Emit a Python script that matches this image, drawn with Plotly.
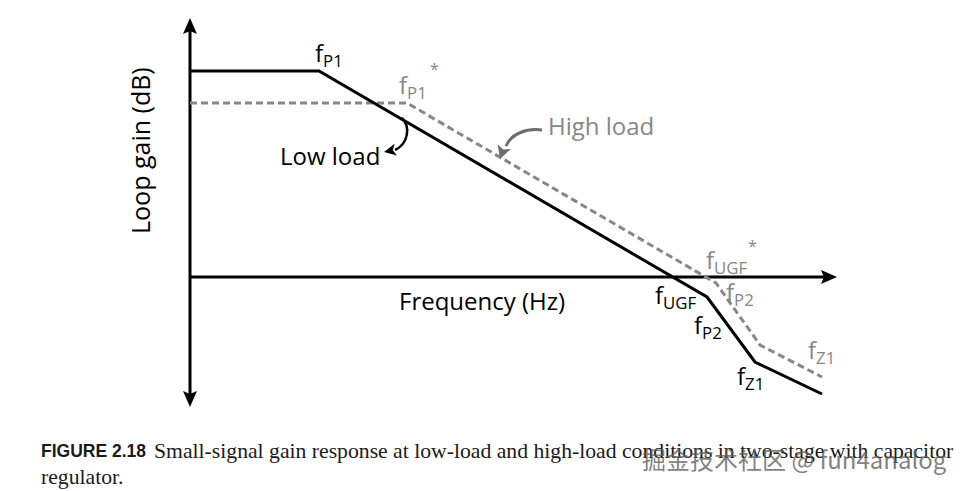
import math
import plotly.graph_objects as go

# ---- Asymptotic loop-gain curves (arbitrary units; origin = axes crossing) ----
low_load_freq = [0, 129, 517, 565, 632]
low_load_gain = [206, 206, -20, -85, -117]
high_load_freq = [0, 217, 526, 570, 632]
high_load_gain = [174, 174, -6, -68, -100]

# axis extents (same arbitrary units)
y_axis_top = 259
y_axis_bottom = -130
x_axis_right = 647

W, H = 969, 491
OX, OY = 190, 277  # pixel location of the origin inside the canvas

BLACK = "#000000"
GRAY = "#878787"
GRAY_ARROW = "#6e6e6e"
FONT = "Open Sans"


def X(px):
    return px - OX


def Y(py):
    return OY - py


def head(tip, direction, length=16, half=7, notch=3):
    dx, dy = direction
    n = math.hypot(dx, dy)
    ux, uy = dx / n, dy / n
    pxu, pyu = -uy, ux
    tx, ty = tip
    bx, by = tx - length * ux, ty - length * uy
    nx, ny = tx - (length - notch) * ux, ty - (length - notch) * uy
    return (f"M {bx + half * pxu},{by + half * pyu} L {tx},{ty} "
            f"L {bx - half * pxu},{by - half * pyu} L {nx},{ny} Z")


fig = go.Figure()
fig.add_trace(go.Scatter(x=high_load_freq, y=high_load_gain, mode="lines",
                         line=dict(color=GRAY, width=3, dash="7px,4px"),
                         hoverinfo="skip", showlegend=False))
fig.add_trace(go.Scatter(x=low_load_freq, y=low_load_gain, mode="lines",
                         line=dict(color=BLACK, width=3),
                         hoverinfo="skip", showlegend=False))

shapes = []
# axes
shapes.append(dict(type="line", xref="x", yref="y", x0=0, x1=0,
                   y0=y_axis_bottom + 12, y1=y_axis_top - 12,
                   line=dict(color=BLACK, width=3), layer="below"))
shapes.append(dict(type="line", xref="x", yref="y", x0=0, x1=x_axis_right - 12,
                   y0=0, y1=0, line=dict(color=BLACK, width=3), layer="below"))
for tip, d in [((0, y_axis_top), (0, 1)), ((0, y_axis_bottom), (0, -1)),
               ((x_axis_right, 0), (1, 0))]:
    shapes.append(dict(type="path", xref="x", yref="y", path=head(tip, d),
                       fillcolor=BLACK, line=dict(width=0)))

# "Low load" curved pointer
shapes.append(dict(type="path", xref="x", yref="y",
                   path="M 212,159 C 221,150 218,133 205,127",
                   line=dict(color=BLACK, width=2.5), fillcolor="rgba(0,0,0,0)"))
shapes.append(dict(type="path", xref="x", yref="y",
                   path=head((194, 125), (-1, -0.2), length=12, half=6, notch=3),
                   fillcolor=BLACK, line=dict(width=0)))
# "High load" curved pointer
shapes.append(dict(type="path", xref="x", yref="y",
                   path="M 352,147 C 336,149 321,143 316,131",
                   line=dict(color=GRAY_ARROW, width=3), fillcolor="rgba(0,0,0,0)"))
shapes.append(dict(type="path", xref="x", yref="y",
                   path=head((310, 118), (-0.35, -1), length=13, half=7, notch=3),
                   fillcolor=GRAY_ARROW, line=dict(width=0)))

annotations = []


def label(text, px, py, color=BLACK, size=24, family=FONT, xanchor="left",
          textangle=0):
    annotations.append(dict(text=text, x=X(px), y=Y(py), xref="x", yref="y",
                            xanchor=xanchor, yanchor="middle", showarrow=False,
                            textangle=textangle,
                            font=dict(family=family, size=size, color=color)))


label("f<sub>P1</sub>", 313, 54)
label("f<sub>P1</sub>", 397, 86, color=GRAY)
label("*", 428, 69, color=GRAY, size=16)
label("Low load", 278, 155)
label("High load", 546, 125, color=GRAY)
label("Frequency (Hz)", 482, 300, xanchor="center")
label("Loop gain (dB)", 140, 151, xanchor="center", size=25, textangle=-90)
label("f<sub>UGF</sub>", 653, 296)
label("f<sub>UGF</sub>", 704, 261, color=GRAY)
label("*", 746, 246, color=GRAY, size=16)
label("f<sub>P2</sub>", 724, 293, color=GRAY)
label("f<sub>P2</sub>", 692, 326)
label("f<sub>Z1</sub>", 806, 351, color=GRAY)
label("f<sub>Z1</sub>", 735, 377)

# caption
label("<b>FIGURE 2.18</b>", 39, 451, color="#1a1a1a", size=17.5,
      family="Liberation Sans, Arial, sans-serif")
label("Small-signal gain response at low-load and high-load conditions in two-stage with capacitor",
      152, 451, color="#1a1a1a", size=21.7, family="Liberation Serif")
label("regulator.", 39, 477, color="#1a1a1a", size=21.7, family="Liberation Serif")
# watermark
label("掘金技术社区 @ fun4analog", 640, 458, color="rgba(95,95,95,0.8)", size=24,
      family="Noto Sans CJK SC")

fig.update_layout(
    width=W, height=H,
    margin=dict(l=0, r=0, t=0, b=0),
    paper_bgcolor="white", plot_bgcolor="white",
    xaxis=dict(range=[-OX, W - OX], visible=False, fixedrange=True),
    yaxis=dict(range=[OY - H, OY], visible=False, fixedrange=True),
    shapes=shapes, annotations=annotations,
    showlegend=False,
)

fig.write_html("out.html", config={"displayModeBar": False},
               post_script="document.body.style.margin='0';document.body.style.overflow='hidden';")
